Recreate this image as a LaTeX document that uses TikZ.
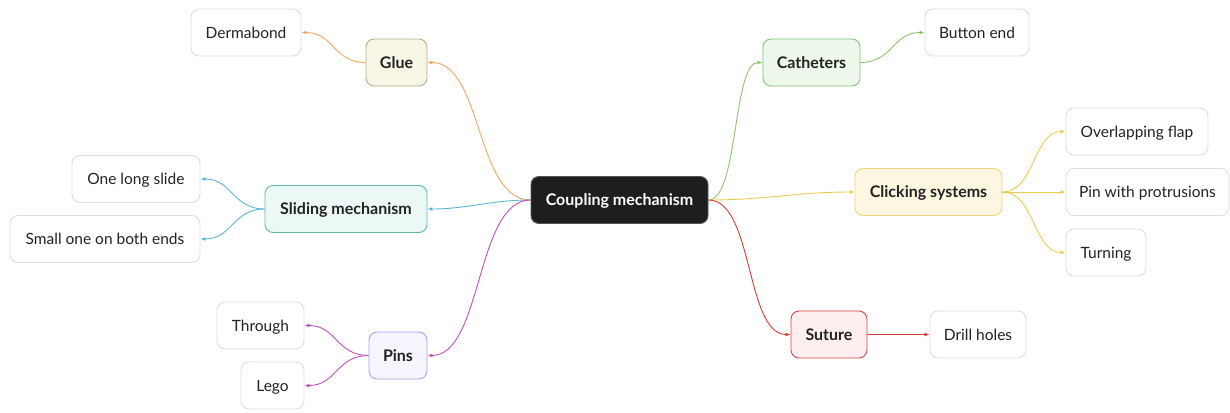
\documentclass[tikz,border=0pt]{standalone}
\usepackage{fontspec}
\setmainfont{Lato}
\usetikzlibrary{arrows.meta}
\definecolor{leafgray}{HTML}{DDDDDD}
\definecolor{rootfill}{HTML}{1E1E1E}
\definecolor{rootdraw}{HTML}{555555}
\definecolor{gluefill}{HTML}{F6F5E6}
\definecolor{gluedraw}{HTML}{B3AF8A}
\definecolor{glueedge}{HTML}{F4A55C}
\definecolor{catfill}{HTML}{EEF8EA}
\definecolor{catdraw}{HTML}{7DC07A}
\definecolor{catedge}{HTML}{8CC46E}
\definecolor{clkfill}{HTML}{FDF6E1}
\definecolor{clkdraw}{HTML}{F5D27C}
\definecolor{clkedge}{HTML}{EBCB50}
\definecolor{slifill}{HTML}{ECF8F6}
\definecolor{slidraw}{HTML}{5DB7A9}
\definecolor{sliedge}{HTML}{5BB4D6}
\definecolor{pinfill}{HTML}{F6F4FD}
\definecolor{pindraw}{HTML}{B39CEB}
\definecolor{pinedge}{HTML}{C24FC0}
\definecolor{sutfill}{HTML}{FDEFEF}
\definecolor{sutdraw}{HTML}{D9453F}
\definecolor{sutedge}{HTML}{D63A32}
\definecolor{txt}{HTML}{222222}
\begin{document}
\begin{tikzpicture}[x=1pt,y=-1pt,
  base/.style={rounded corners=8pt, minimum height=47pt, inner sep=0pt, text height=11.5pt, text depth=0pt, line width=0.9pt, text=txt, font=\fontsize{15.5}{17}\selectfont},
  leaf/.style={base, draw=leafgray, fill=white},
  topic/.style={base, font=\fontsize{16}{18}\selectfont\bfseries},
  rootnode/.style={base, fill=rootfill, draw=rootdraw, text=white, font=\fontsize{16}{18}\selectfont\bfseries},
  conn/.style={line width=0.9pt, -{Latex[length=5pt,width=4pt]}}]
\useasboundingbox (0,0) rectangle (1230,412);
% root
\node[rootnode, minimum width=177pt] (root) at (619.5,200) {Coupling mechanism};
% topics
\node[topic, fill=gluefill, draw=gluedraw, minimum width=61pt] (glue) at (396.5,62.5) {Glue};
\node[topic, fill=catfill, draw=catdraw, minimum width=97pt] (cat) at (811.5,62.5) {Catheters};
\node[topic, fill=clkfill, draw=clkdraw, minimum width=147pt] (clk) at (928.5,192) {Clicking systems};
\node[topic, fill=slifill, draw=slidraw, minimum width=162pt] (sli) at (346,209) {Sliding mechanism};
\node[topic, fill=pinfill, draw=pindraw, minimum width=58pt] (pins) at (398,355.5) {Pins};
\node[topic, fill=sutfill, draw=sutdraw, minimum width=76pt] (sut) at (829,334.5) {Suture};
% leaves
\node[leaf, minimum width=110pt] (derma) at (246,32.5) {Dermabond};
\node[leaf, minimum width=104pt] (button) at (977,32.5) {Button end};
\node[leaf, minimum width=142pt] (flap) at (1137,131.5) {Overlapping flap};
\node[leaf, minimum width=163pt] (pinprot) at (1147.5,192) {Pin with protrusions};
\node[leaf, minimum width=80pt] (turn) at (1106,252.5) {Turning};
\node[leaf, minimum width=128pt] (long) at (136,179) {One long slide};
\node[leaf, minimum width=190pt] (small) at (105,239) {Small one on both ends};
\node[leaf, minimum width=87pt] (through) at (260.5,325.5) {Through};
\node[leaf, minimum width=63pt] (lego) at (272.5,385.5) {Lego};
\node[leaf, minimum width=96pt] (drill) at (978,334.5) {Drill holes};
% root connectors
\draw[conn, glueedge] (root.west) .. controls +(-55,0) and +(55,0) .. (glue.east);
\draw[conn, sliedge] (root.west) .. controls +(-40,0) and +(40,0) .. (sli.east);
\draw[conn, pinedge] (root.west) .. controls +(-55,0) and +(55,0) .. (pins.east);
\draw[conn, catedge] (root.east) .. controls +(30,0) and +(-30,0) .. (cat.west);
\draw[conn, clkedge] (root.east) .. controls +(60,0) and +(-60,0) .. (clk.west);
\draw[conn, sutedge] (root.east) .. controls +(45,0) and +(-45,0) .. (sut.west);
% child connectors
\draw[conn, glueedge] (glue.west) .. controls +(-32,0) and +(32,0) .. (derma.east);
\draw[conn, catedge] (cat.east) .. controls +(32,0) and +(-32,0) .. (button.west);
\draw[conn, clkedge] (clk.east) .. controls +(32,0) and +(-32,0) .. (flap.west);
\draw[conn, clkedge] (clk.east) -- (pinprot.west);
\draw[conn, clkedge] (clk.east) .. controls +(32,0) and +(-32,0) .. (turn.west);
\draw[conn, sliedge] (sli.west) .. controls +(-32,0) and +(32,0) .. (long.east);
\draw[conn, sliedge] (sli.west) .. controls +(-32,0) and +(32,0) .. (small.east);
\draw[conn, pinedge] (pins.west) .. controls +(-32,0) and +(32,0) .. (through.east);
\draw[conn, pinedge] (pins.west) .. controls +(-32,0) and +(32,0) .. (lego.east);
\draw[conn, sutedge] (sut.east) -- (drill.west);
\end{tikzpicture}
\end{document}
